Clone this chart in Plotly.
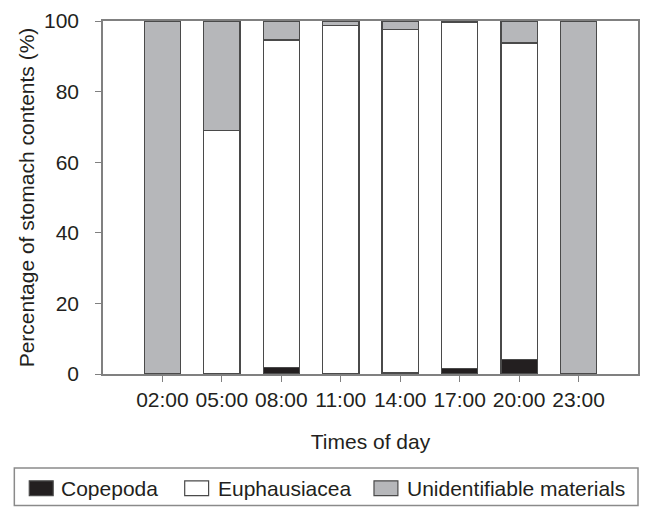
import plotly.graph_objects as go

times = ["02:00", "05:00", "08:00", "11:00", "14:00", "17:00", "20:00", "23:00"]
copepoda = [0, 0.2, 1.9, 0, 0.5, 1.6, 4.2, 0]
euphausiacea = [0, 68.8, 92.7, 98.8, 97.0, 98.1, 89.6, 0]
unidentifiable = [100, 31.0, 5.4, 1.2, 2.5, 0.3, 6.2, 100]

series_names = ["Copepoda", "Euphausiacea", "Unidentifiable materials"]
series_values = [copepoda, euphausiacea, unidentifiable]
series_colors = ["#231f20", "#ffffff", "#b6b7ba"]

FONT = "Liberation Sans, Arial, sans-serif"
EDGE = "#4a4a4a"
TXT = "#231f20"
FS = 21

W, H = 649, 508
L, R, T, B = 103, 9, 17, 134
PW, PH = W - L - R, H - T - B


def px_x(px):
    return (px - L) / PW


def px_y(py):
    return (H - B - py) / PH


fig = go.Figure()
for name, vals, col in zip(series_names, series_values, series_colors):
    fig.add_trace(go.Bar(x=times, y=vals, name=name, showlegend=False,
                         marker=dict(color=col, line=dict(color=EDGE, width=1.3))))

# Manual legend (box + swatches + labels)
shapes = [dict(type="rect", xref="paper", yref="paper",
               x0=px_x(14), x1=px_x(640), y0=px_y(469), y1=px_y(507),
               line=dict(color="#8a8a8a", width=1.5), fillcolor="rgba(0,0,0,0)")]
annotations = []
sym_x = [29, 185, 375]
txt_x = [59, 216, 406]
for name, col, sx, tx in zip(series_names, series_colors, sym_x, txt_x):
    shapes.append(dict(type="rect", xref="paper", yref="paper",
                       x0=px_x(sx), x1=px_x(sx + 24), y0=px_y(482), y1=px_y(497),
                       line=dict(color=EDGE, width=1.2), fillcolor=col))
    annotations.append(dict(xref="paper", yref="paper", x=px_x(tx), y=px_y(489.5),
                            xanchor="left", yanchor="middle", text=name, showarrow=False,
                            font=dict(size=FS, color=TXT, family=FONT)))

fig.update_layout(
    barmode="stack",
    bargap=0.39,
    width=W, height=H,
    margin=dict(l=L, r=R, t=T, b=B),
    plot_bgcolor="white", paper_bgcolor="white",
    font=dict(family=FONT, size=FS, color=TXT),
    showlegend=False,
    shapes=shapes,
    annotations=annotations,
)
fig.update_xaxes(
    type="category", range=[-1, 8],
    showline=True, linecolor="#808080", linewidth=1.5, mirror=True,
    ticks="outside", ticklen=6, tickcolor="#808080",
    tickfont=dict(size=FS, color=TXT),
    title=dict(text="Times of day", standoff=24, font=dict(size=FS, color=TXT)),
    showgrid=False,
)
fig.update_yaxes(
    range=[0, 100], dtick=20,
    showline=True, linecolor="#808080", linewidth=1.5, mirror=True,
    ticks="outside", ticklen=6, tickcolor="#808080",
    ticklabelstandoff=12,
    tickfont=dict(size=FS, color=TXT),
    title=dict(text="Percentage of stomach contents (%)", standoff=4,
               font=dict(size=FS, color=TXT)),
    showgrid=False, zeroline=False,
)

fig.write_html("out.html")
